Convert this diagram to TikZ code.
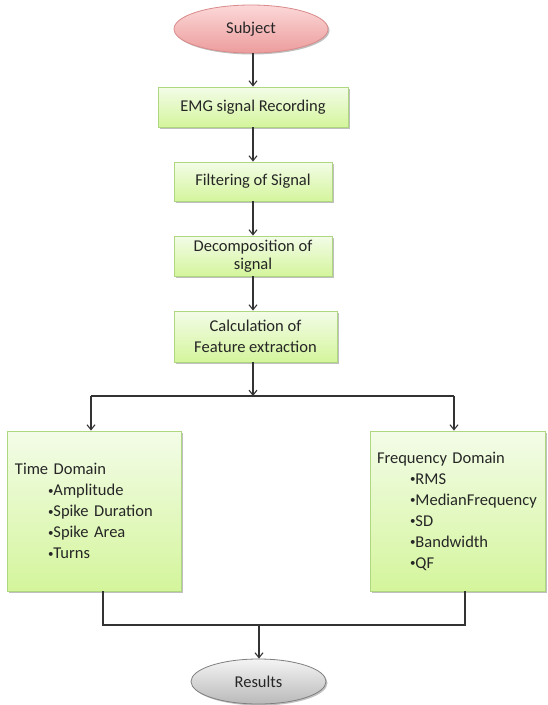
\documentclass[tikz,border=0pt]{standalone}
\usepackage{fontspec}
\setmainfont{Carlito}
\usetikzlibrary{shapes.geometric,shadows,arrows.meta,shadings}
\definecolor{gtop}{HTML}{F3FCE8}
\definecolor{gbot}{HTML}{D4F59C}
\definecolor{gborder}{HTML}{AFD77F}
\definecolor{ptop}{HTML}{FCD8D8}
\definecolor{pbot}{HTML}{EC9C9C}
\definecolor{pborder}{HTML}{D98A8A}
\definecolor{ytop}{HTML}{F4F4F4}
\definecolor{ybot}{HTML}{B9B9B9}
\definecolor{yborder}{HTML}{7F7F7F}
\definecolor{linec}{HTML}{333333}
\newcommand{\bul}{\hspace*{33pt}{\fontsize{11}{11}\selectfont\raisebox{1.5pt}{•}}}
\tikzset{
  every node/.style={font=\fontsize{16.5}{21}\selectfont, text=black!85},
  shade/.style={drop shadow={shadow xshift=1.5pt,shadow yshift=-1.5pt,opacity=0.25,fill=black}},
  gbox/.style={rectangle, draw=gborder, line width=0.8pt, top color=gtop, bottom color=gbot, shade, align=center, inner sep=0pt},
  pell/.style={ellipse, draw=pborder, line width=0.8pt, top color=ptop, bottom color=pbot, shade, inner sep=0pt},
  yell/.style={ellipse, draw=yborder, line width=0.8pt, top color=ytop, bottom color=ybot, shade, inner sep=0pt},
  conn/.style={draw=linec, line width=1.2pt},
  arr/.style={conn, -{Straight Barb[length=5pt,width=8pt,line width=1.1pt]}}
}
\begin{document}
\begin{tikzpicture}[x=1pt,y=-1pt]
\useasboundingbox (0,0) rectangle (547,705);
\node[pell, minimum width=154pt, minimum height=48pt] (subj) at (251,29) {Subject};
\node[gbox, minimum width=190pt, minimum height=40pt] (emg) at (253,107) {EMG signal Recording};
\node[gbox, minimum width=158pt, minimum height=39pt] (filt) at (253,181.5) {Filtering of Signal};
\node[gbox, minimum width=158pt, minimum height=40pt] (dec) at (253,256) {Decomposition of\\[-3pt]signal};
\node[gbox, minimum width=163pt, minimum height=51pt] (calc) at (255.5,336.5) {Calculation of\\Feature extraction};
\node[gbox, minimum width=174pt, minimum height=160pt, text width=158pt, align=left, inner xsep=8pt] (td) at (94,511)
  {Time Domain\\\bul Amplitude\\\bul Spike Duration\\\bul Spike Area\\\bul Turns};
\node[gbox, minimum width=175pt, minimum height=160pt, text width=161pt, align=left, inner xsep=7pt] (fd) at (457.5,511)
  {Frequency Domain\\\bul RMS\\\bul\mbox{MedianFrequency}\\\bul SD\\\bul Bandwidth\\\bul QF};
\node[yell, minimum width=135pt, minimum height=45pt] (res) at (258.5,681.5) {Results};
\coordinate (j1) at (253,396);
\coordinate (j1l) at (91,396);
\coordinate (j1r) at (454,396);
\coordinate (j2) at (259,625);
\coordinate (j2l) at (103,625);
\coordinate (j2r) at (465,625);
\draw[arr] (subj.south -| emg.north) -- (emg.north);
\draw[arr] (emg.south -| filt.north) -- (filt.north);
\draw[arr] (filt.south) -- (dec.north);
\draw[arr] (dec.south) -- (dec.south |- calc.north);
\draw[arr] (calc.south -| j1) -- (j1);
\draw[conn] (j1l) -- (j1r);
\draw[arr] (j1l) -- (j1l |- td.north);
\draw[arr] (j1r) -- (j1r |- fd.north);
\draw[conn] (td.south -| j2l) -- (j2l) -- (j2r) -- (fd.south -| j2r);
\draw[arr] (j2) -- (j2 |- res.north);
\end{tikzpicture}
\end{document}
